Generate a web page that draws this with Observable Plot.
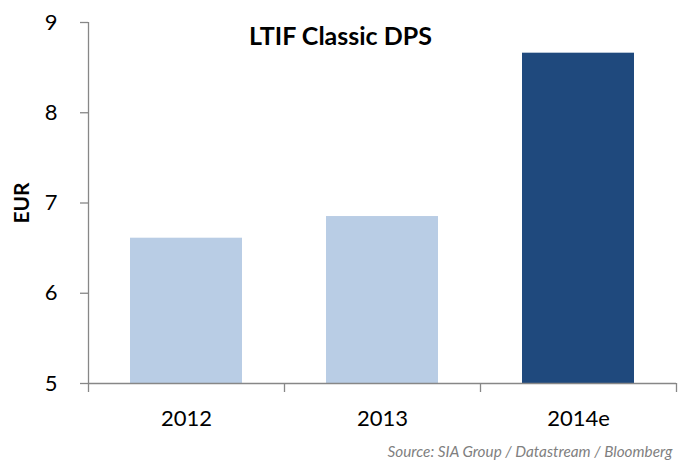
<!DOCTYPE html>
<html>
<head>
<meta charset="utf-8">
<script src="https://cdn.jsdelivr.net/npm/d3@7"></script>
<script src="https://cdn.jsdelivr.net/npm/@observablehq/plot@0.6"></script>
<style>
  html, body { margin: 0; padding: 0; background: #fff; }
  #chart svg { display: block; }
</style>
</head>
<body>
<div id="chart"></div>
<script>
const categories = ["2012", "2013", "2014e"];
const values = [6.61, 6.85, 8.66];
const barColors = ["#B9CDE5", "#B9CDE5", "#1F497D"];
const yTicks = [5, 6, 7, 8, 9];
const titleText = ["LTIF Classic DPS"];
const yLabel = ["EUR"];
const sourceText = ["Source: SIA Group / Datastream / Bloomberg"];

const data = categories.map((c, i) => ({cat: c, i, value: values[i], color: barColors[i]}));
const font = "Lato, 'Open Sans', sans-serif";
const axisColor = "#878787";

const chart = Plot.plot({
  width: 680,
  height: 462,
  marginLeft: 88,
  marginRight: 4,
  marginTop: 22,
  marginBottom: 79,
  style: {fontFamily: font, fontSize: "22px", color: "#000", background: "#fff"},
  x: {type: "linear", domain: [0, categories.length], axis: null},
  y: {domain: [5, 9], axis: null},
  marks: [
    Plot.rect(data, {
      x1: d => d.i, x2: d => d.i + 1, y1: 5, y2: "value",
      fill: "color", insetLeft: 42, insetRight: 42
    }),
    Plot.ruleY([5], {stroke: axisColor, strokeWidth: 1.3}),
    Plot.ruleX([0], {y1: 5, y2: 9, stroke: axisColor, strokeWidth: 1.3}),
    Plot.axisY({
      ticks: yTicks, tickSize: 8, tickPadding: 23, stroke: axisColor,
      strokeWidth: 1.3, fill: "#000", fontSize: 22, label: null, tickFormat: d => String(d)
    }),
    Plot.axisX({
      ticks: d3.range(categories.length + 1), tickSize: 9, tickFormat: () => "",
      stroke: axisColor, strokeWidth: 1.3, label: null
    }),
    Plot.axisX({
      ticks: categories.map((c, i) => i + 0.5), tickSize: 0, tickPadding: 27,
      tickFormat: v => categories[Math.floor(v)], fill: "#000", fontSize: 22, label: null
    }),
    Plot.text(titleText, {
      text: d => d, frameAnchor: "top", dx: -42, dy: 5, lineAnchor: "top",
      fontWeight: "bold", fontSize: 25, fill: "#000"
    }),
    Plot.text(yLabel, {
      text: d => d, frameAnchor: "left", dx: -66, rotate: -90, textAnchor: "middle",
      fontWeight: "bold", fontSize: 21, fill: "#000"
    }),
    Plot.text(sourceText, {
      text: d => d, frameAnchor: "bottom-right", dx: -4, dy: 63, lineAnchor: "top",
      textAnchor: "end", fontStyle: "italic", fontSize: 15.3, fill: "#7F7F7F"
    })
  ]
});
document.getElementById("chart").appendChild(chart);
</script>
</body>
</html>
